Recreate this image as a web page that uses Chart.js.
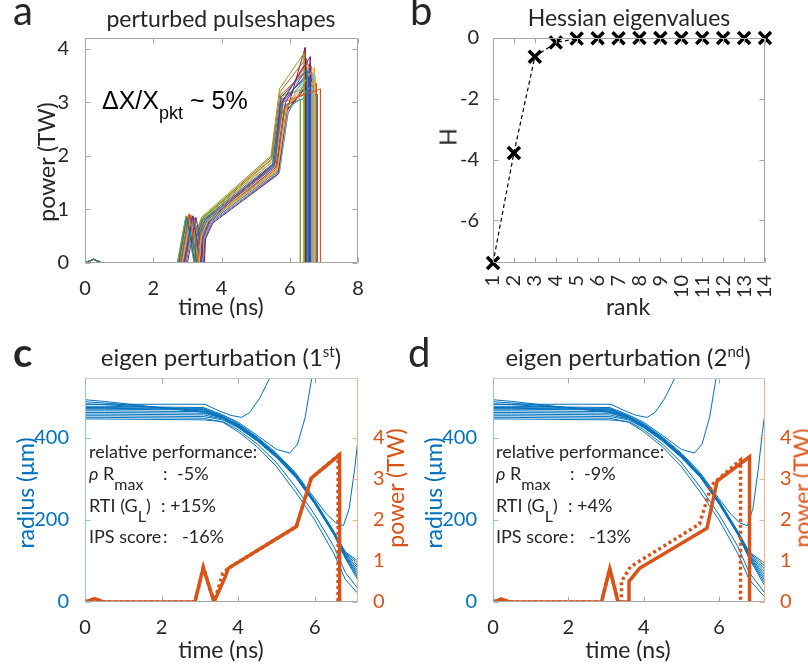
<!DOCTYPE html>
<html>
<head>
<meta charset="utf-8">
<script src="https://cdn.jsdelivr.net/npm/chart.js@4.4.0/dist/chart.umd.min.js"></script>
<style>
  body { margin: 0; background: #fff; width: 808px; height: 668px; position: relative; overflow: hidden; font-family: Lato, sans-serif; color: #262626; }
  canvas { position: absolute; }
  .t { position: absolute; white-space: nowrap; line-height: 1; }
  .ctr { transform: translateX(-50%); }
  .rot { transform: translate(-50%, -50%) rotate(-90deg); }
  .lbl { font-size: 23px; }
  .ann { font-size: 18px; }
  .ann span { display: inline-block; }
  .sub { position: relative; top: 10px; font-size: 16px; }
</style>
</head>
<body>
<canvas id="pa" style="left:0;top:0" width="400" height="330"></canvas>
<canvas id="pb" style="left:400px;top:0" width="408" height="330"></canvas>
<canvas id="pc" style="left:0;top:330px" width="400" height="338"></canvas>
<canvas id="pd" style="left:400px;top:330px" width="408" height="338"></canvas>

<!-- panel letters -->
<div class="t" style="left:13px;top:-10px;font-size:40px">a</div>
<div class="t" style="left:410px;top:-10px;font-size:40px">b</div>
<div class="t" style="left:13px;top:332px;font-size:40px;font-weight:bold">c</div>
<div class="t" style="left:408px;top:332px;font-size:40px">d</div>

<!-- titles -->
<div class="t lbl ctr" style="left:221px;top:7px">perturbed pulseshapes</div>
<div class="t lbl ctr" style="left:629px;top:6px">Hessian eigenvalues</div>
<div class="t lbl ctr" style="left:221px;top:344px;font-size:24px">eigen perturbation (1<sup style="font-size:15px">st</sup>)</div>
<div class="t lbl ctr" style="left:628px;top:344px;font-size:24px">eigen perturbation (2<sup style="font-size:15px">nd</sup>)</div>

<!-- axis labels -->
<div class="t lbl ctr" style="left:221px;top:295px">time (ns)</div>
<div class="t lbl ctr" style="left:628px;top:295px">rank</div>
<div class="t lbl ctr" style="left:221px;top:638px">time (ns)</div>
<div class="t lbl ctr" style="left:628px;top:638px">time (ns)</div>
<div class="t lbl rot" style="left:46px;top:162px">power (TW)</div>
<div class="t lbl rot" style="left:448px;top:137px">H</div>
<div class="t lbl rot" style="left:25px;top:493px;color:#0072BD">radius (μm)</div>
<div class="t lbl rot" style="left:395px;top:488px;color:#D95319">power (TW)</div>
<div class="t lbl rot" style="left:433px;top:493px;color:#0072BD">radius (μm)</div>
<div class="t lbl rot" style="left:802px;top:488px;color:#D95319">power (TW)</div>

<!-- annotation panel a -->
<div class="t" style="left:102px;top:88px;font-family:'Liberation Sans';font-size:25px;color:#000">ΔX/X<span style="position:relative;top:10px;font-size:18px">pkt</span> ~ 5%</div>

<!-- annotation panel c -->
<div class="t ann" style="left:89px;top:442px">relative performance:</div>
<div class="t ann" style="left:89px;top:464px"><span style="width:74px"><i>ρ</i> R<span class="sub">max</span></span><span style="width:14px">:</span>-5%</div>
<div class="t ann" style="left:89px;top:496px"><span style="width:72px">RTI (G<span class="sub">L</span>)</span><span>: +15%</span></div>
<div class="t ann" style="left:89px;top:527px"><span style="width:74px">IPS score</span><span style="width:19px">:</span>-16%</div>

<!-- annotation panel d -->
<div class="t ann" style="left:496px;top:442px">relative performance:</div>
<div class="t ann" style="left:496px;top:464px"><span style="width:74px"><i>ρ</i> R<span class="sub">max</span></span><span style="width:14px">:</span>-9%</div>
<div class="t ann" style="left:496px;top:496px"><span style="width:72px">RTI (G<span class="sub">L</span>)</span><span>: +4%</span></div>
<div class="t ann" style="left:496px;top:527px"><span style="width:74px">IPS score</span><span style="width:19px">:</span>-13%</div>

<script>
// ---- panel a: perturbed pulse shapes, [time ns, power TW]
const lineColors = ['#0072BD', '#D95319', '#EDB120', '#7E2F8E', '#77AC30', '#4DBEEE', '#A2142F'];
const pulsesA = [
  [[0,0],[0.25,0.07],[0.5,0],[2.75,0],[2.98,0.85],[3.22,0],[3.26,0.48],[3.45,0.8],[5.5,1.85],[5.75,3.1],[6.5,3.6],[6.5,0]],
  [[0,0],[0.25,0.07],[0.5,0],[2.8,0],[3.05,0.92],[3.3,0],[3.34,0.5],[3.52,0.82],[5.55,1.8],[5.8,3.0],[6.9,3.25],[6.9,0]],
  [[0,0],[0.25,0.07],[0.5,0],[2.85,0],[3.08,0.8],[3.35,0],[3.39,0.45],[3.6,0.78],[5.65,1.75],[5.92,2.9],[6.72,3.65],[6.72,0]],
  [[0,0],[0.25,0.07],[0.5,0],[2.9,0],[3.15,0.88],[3.4,0],[3.44,0.5],[3.65,0.8],[5.58,1.88],[5.72,2.95],[6.6,3.85],[6.6,0]],
  [[0,0],[0.25,0.07],[0.5,0],[2.7,0],[2.95,0.85],[3.2,0],[3.24,0.55],[3.42,0.86],[5.45,2.0],[5.7,3.25],[6.42,3.92],[6.42,0]],
  [[0,0],[0.25,0.07],[0.5,0],[2.95,0],[3.2,0.82],[3.45,0],[3.49,0.45],[3.7,0.75],[5.7,1.7],[5.95,2.85],[6.62,3.3],[6.62,0]],
  [[0,0],[0.25,0.07],[0.5,0],[3.0,0],[3.25,0.85],[3.5,0],[3.53,0.45],[3.75,0.75],[5.65,1.65],[5.9,2.8],[6.45,4.02],[6.45,0]],
  [[0,0],[0.25,0.07],[0.5,0],[2.8,0],[3.02,0.78],[3.28,0],[3.31,0.5],[3.5,0.8],[5.52,1.8],[5.78,3.05],[6.55,3.5],[6.55,0]],
  [[0,0],[0.25,0.07],[0.5,0],[2.88,0],[3.1,0.9],[3.36,0],[3.4,0.48],[3.6,0.78],[5.6,1.75],[5.85,2.9],[6.78,3.35],[6.78,0]],
  [[0,0],[0.25,0.07],[0.5,0],[2.78,0],[3.0,0.82],[3.25,0],[3.29,0.5],[3.48,0.82],[5.55,1.92],[5.8,3.1],[6.52,3.7],[6.52,0]],
  [[0,0],[0.25,0.07],[0.5,0],[2.92,0],[3.15,0.86],[3.42,0],[3.46,0.48],[3.65,0.78],[5.62,1.8],[5.88,3.0],[6.58,3.72],[6.58,0]],
  [[0,0],[0.25,0.07],[0.5,0],[2.75,0],[2.98,0.88],[3.22,0],[3.26,0.5],[3.45,0.85],[5.48,1.95],[5.8,2.85],[6.31,3.05],[6.31,0]],
  [[0,0],[0.25,0.07],[0.5,0],[2.82,0],[3.05,0.8],[3.3,0],[3.34,0.5],[3.55,0.8],[5.58,1.85],[5.82,3.0],[6.68,3.55],[6.68,0]],
  [[0,0],[0.25,0.07],[0.5,0],[2.95,0],[3.2,0.84],[3.48,0],[3.51,0.46],[3.72,0.76],[5.68,1.7],[5.92,2.85],[6.7,3.45],[6.7,0]],
  [[0,0],[0.25,0.07],[0.5,0],[2.85,0],[3.1,0.86],[3.33,0],[3.37,0.5],[3.58,0.8],[5.6,1.82],[5.85,2.95],[6.8,3.15],[6.8,0]],
  [[0,0],[0.25,0.07],[0.5,0],[2.72,0],[2.96,0.88],[3.2,0],[3.24,0.52],[3.44,0.84],[5.46,1.98],[5.72,3.2],[6.48,3.82],[6.48,0]],
  [[0,0],[0.25,0.07],[0.5,0],[2.9,0],[3.12,0.84],[3.38,0],[3.42,0.46],[3.62,0.78],[5.63,1.72],[5.9,2.92],[6.75,3.42],[6.75,0]],
  [[0,0],[0.25,0.07],[0.5,0],[2.83,0],[3.06,0.9],[3.31,0],[3.35,0.5],[3.55,0.82],[5.56,1.86],[5.72,2.95],[6.6,3.6],[6.6,0]],
  [[0,0],[0.25,0.07],[0.5,0],[2.77,0],[3.0,0.86],[3.24,0],[3.28,0.52],[3.47,0.84],[5.5,1.9],[5.76,3.12],[6.7,3.3],[6.7,0]],
  [[0,0],[0.25,0.07],[0.5,0],[2.88,0],[3.11,0.82],[3.37,0],[3.41,0.48],[3.62,0.78],[5.64,1.74],[5.9,2.88],[6.56,3.62],[6.56,0]],
  [[0,0],[0.25,0.07],[0.5,0],[2.8,0],[3.03,0.86],[3.28,0],[3.32,0.5],[3.52,0.8],[5.54,1.83],[5.8,3.02],[6.5,3.78],[6.5,0]],
  [[0,0],[0.25,0.07],[0.5,0],[2.93,0],[3.17,0.88],[3.43,0],[3.47,0.47],[3.67,0.77],[5.66,1.72],[5.92,2.86],[6.73,3.5],[6.73,0]],
  [[0,0],[0.25,0.07],[0.5,0],[2.74,0],[2.97,0.84],[3.21,0],[3.25,0.5],[3.44,0.83],[5.47,1.93],[5.74,3.14],[6.62,3.68],[6.62,0]],
  [[0,0],[0.25,0.07],[0.5,0],[2.86,0],[3.09,0.87],[3.34,0],[3.38,0.48],[3.58,0.79],[5.6,1.78],[5.86,2.92],[6.66,3.38],[6.66,0]],
  [[0,0],[0.25,0.07],[0.5,0],[2.96,0],[3.2,0.84],[3.46,0],[3.5,0.46],[3.71,0.76],[5.69,1.68],[5.95,2.8],[6.64,3.58],[6.64,0]]
];

// ---- panel b: Hessian eigenvalues by rank
const ranks = [1, 2, 3, 4, 5, 6, 7, 8, 9, 10, 11, 12, 13, 14];
const hessH = [-7.4, -3.78, -0.62, -0.15, -0.02, -0.01, -0.01, 0, 0, 0, 0, 0, 0, 0];

// ---- panels c/d: shell radius trajectories (um), shared time grid
const radT = [0, 0.5, 3.1, 3.6, 4.0, 4.5, 5.0, 5.5, 6.0, 6.5, 6.8, 7.25];
const radBundle = [
  [493, 489, 462, 449, 433, 400, 360, 312, 247, 172, 122, 92],
  [488, 485, 465, 450, 432, 399, 359, 311, 246, 171, 120, 85],
  [483, 481, 468, 451, 431, 398, 358, 310, 245, 170, 118, 77],
  [474, 474, 472, 452, 430, 397, 357, 309, 244, 169, 116, 70],
  [470, 470, 468, 451, 429, 396, 356, 308, 243, 168, 114, 62],
  [466, 466, 464, 450, 428, 395, 355, 307, 242, 167, 112, 55],
  [462, 462, 460, 448, 427, 394, 354, 306, 241, 166, 110, 48],
  [458, 458, 456, 446, 426, 393, 353, 305, 240, 165, 108, 41],
  [454, 454, 452, 444, 425, 392, 352, 304, 239, 164, 106, 34],
  [450, 450, 448, 438, 415, 378, 330, 268, 200, 118, 55, 8],
  [446, 446, 444, 440, 420, 385, 340, 280, 213, 135, 72, 18]
];
// trajectories that turn back up
const radAT = [0, 3.13, 3.5, 3.8, 4.09, 4.3, 4.55, 4.85];
const radA = [482, 482, 466, 455, 450, 462, 495, 550];
const radBT = [0, 0.5, 3.1, 3.6, 4.0, 4.5, 5.0, 5.35, 5.55, 5.75, 5.93];
const radB = [477, 477, 474, 456, 438, 406, 372, 363, 385, 450, 550];
const radCT = [0, 0.5, 3.1, 3.6, 4.0, 4.5, 5.0, 5.5, 6.0, 6.3, 6.55, 6.75, 6.9, 7.05, 7.15, 7.25];
const radC = [472, 472, 470, 454, 435, 402, 363, 315, 252, 215, 193, 186, 228, 330, 415, 480];

// ---- pulses (TW) for c and d: reference (solid) and perturbed (dotted)
const powCT = [0, 0.25, 0.48, 2.87, 3.09, 3.37, 3.65, 3.74, 5.52, 5.91, 6.65, 6.65];
const powC = [0, 0.08, 0, 0, 0.84, 0, 0.58, 0.82, 1.84, 3.02, 3.59, 0];
const powCdT = [0, 0.25, 0.48, 2.87, 3.09, 3.37, 3.6, 3.74, 5.52, 5.91, 6.61, 6.61];
const powCd = [0, 0.08, 0, 0, 0.84, 0, 0.7, 0.82, 1.84, 3.02, 3.57, 0];
const powDT = [0, 0.22, 0.44, 2.88, 3.1, 3.32, 3.61, 3.61, 3.89, 5.68, 5.95, 6.81, 6.81];
const powD = [0, 0.07, 0, 0, 0.81, 0, 0, 0.5, 0.82, 1.8, 2.95, 3.54, 0];
const powDdT = [0, 0.22, 0.44, 2.88, 3.1, 3.32, 3.41, 3.41, 3.65, 5.48, 5.8, 6.57, 6.57];
const powDd = [0, 0.07, 0, 0, 0.81, 0, 0, 0.5, 0.86, 1.9, 2.85, 3.46, 0];

const BLUE = '#0072BD', ORANGE = '#D95319', INK = '#262626';

Chart.defaults.font.family = 'Lato';
Chart.defaults.color = INK;

const pts = (ts, vs) => ts.map((t, i) => ({ x: t, y: vs[i] }));

// axis box with inward tick marks, MATLAB style
const frame = {
  id: 'frame',
  afterDraw(chart, args, o) {
    const { ctx, chartArea: a, scales } = chart;
    const L = Math.round(a.left) + 0.5, R = Math.round(a.right) - 0.5;
    const T = Math.round(a.top) + 0.5, B = Math.round(a.bottom) - 0.5;
    ctx.save();
    ctx.lineWidth = 1;
    const seg = (c, x1, y1, x2, y2) => {
      ctx.strokeStyle = c; ctx.beginPath(); ctx.moveTo(x1, y1); ctx.lineTo(x2, y2); ctx.stroke();
    };
    seg(o.top, L, T, R, T);
    seg(o.bottom, L, B, R, B);
    seg(o.left, L, T, L, B);
    seg(o.right, R, T, R, B);
    scales.x.ticks.forEach(t => {
      const px = Math.round(scales.x.getPixelForValue(t.value)) + 0.5;
      seg(o.bottom, px, B, px, B - 5);
      seg(o.bottom, px, T, px, T + 5);
    });
    scales.y.ticks.forEach(t => {
      const py = Math.round(scales.y.getPixelForValue(t.value)) + 0.5;
      seg(o.left, L, py, L + 5, py);
      if (!scales.y2) seg(o.right, R, py, R - 5, py);
    });
    if (scales.y2) scales.y2.ticks.forEach(t => {
      const py = Math.round(scales.y2.getPixelForValue(t.value)) + 0.5;
      seg(o.right, R, py, R - 5, py);
    });
    ctx.restore();
  }
};

const baseOpts = (pad, box) => ({
  responsive: false,
  animation: false,
  events: [],
  layout: { padding: pad },
  plugins: { legend: { display: false }, tooltip: { enabled: false }, frame: box }
});

const axis = (extra, color) => Object.assign({
  type: 'linear',
  grid: { display: false },
  border: { display: false },
  ticks: { font: { size: 20 }, color: color || INK, padding: 6, includeBounds: false }
}, extra);

const grayBox = { top: '#a6a6a6', bottom: '#a6a6a6', left: '#a6a6a6', right: '#a6a6a6' };

// panel a
new Chart(document.getElementById('pa'), {
  type: 'line',
  data: {
    datasets: pulsesA.map((p, i) => ({
      data: p.map(([x, y]) => ({ x, y })),
      borderColor: lineColors[i % lineColors.length],
      borderWidth: 1, pointRadius: 0, tension: 0
    }))
  },
  options: Object.assign(baseOpts({ left: 0, top: 38, right: 42, bottom: 0 }, grayBox), {
    scales: {
      x: axis({ min: 0, max: 8, afterFit: s => { s.height = 67; } }),
      y: axis({ min: 0, max: 4.2, afterFit: s => { s.width = 85; } })
    }
  }),
  plugins: [frame]
});
const pa = Chart.getChart('pa');
pa.options.scales.x.ticks.stepSize = 2;
pa.options.scales.y.ticks.stepSize = 1;
pa.options.scales.y.ticks.padding = 8;
pa.update();

// panel b
new Chart(document.getElementById('pb'), {
  type: 'line',
  data: {
    datasets: [
      { data: pts(ranks, hessH), showLine: false, pointStyle: 'crossRot', pointRadius: 8.5,
        pointBorderWidth: 3.5, pointBorderColor: '#000', clip: false },
      { data: pts(ranks, hessH), borderColor: '#000', borderWidth: 1.2, borderDash: [4, 3],
        pointRadius: 0, tension: 0 }
    ]
  },
  options: Object.assign(baseOpts({ left: 0, top: 38, right: 43, bottom: 0 }, grayBox), {
    scales: {
      x: axis({ min: 1, max: 14, afterFit: s => { s.height = 67; } }),
      y: axis({ min: -7.4, max: 0, afterFit: s => { s.width = 93; } })
    }
  }),
  plugins: [frame]
});
const pb = Chart.getChart('pb');
pb.options.scales.x.ticks.stepSize = 1;
pb.options.scales.x.ticks.autoSkip = false;
pb.options.scales.x.ticks.minRotation = 90;
pb.options.scales.x.ticks.maxRotation = 90;
pb.options.scales.x.ticks.padding = 4;
pb.options.scales.y.ticks.stepSize = 2;
pb.update();

// panels c and d
function eigenPanel(id, yW, y2W, xMax, solid, dotted) {
  const blueSets = radBundle.map(r => pts(radT, r))
    .concat([pts(radAT, radA), pts(radBT, radB), pts(radCT, radC)])
    .map(d => ({ data: d, yAxisID: 'y', borderColor: BLUE, borderWidth: 1, pointRadius: 0, tension: 0 }));
  const orangeSets = [
    { data: dotted, yAxisID: 'y2', borderColor: ORANGE, borderWidth: 3.5, borderDash: [3, 3], pointRadius: 0, tension: 0 },
    { data: solid, yAxisID: 'y2', borderColor: ORANGE, borderWidth: 3.5, pointRadius: 0, tension: 0 }
  ];
  new Chart(document.getElementById(id), {
    type: 'line',
    data: { datasets: orangeSets.concat(blueSets) },
    options: Object.assign(baseOpts({ left: 0, top: 48, right: 0, bottom: 0 },
      { top: '#c8c8c8', bottom: '#a6a6a6', left: '#8fc3e8', right: '#f2b08f' }), {
      scales: {
        x: axis({ min: 0, max: xMax, afterFit: s => { s.height = 66; } }),
        y: axis({ min: 0, max: 546, afterFit: s => { s.width = yW; } }, BLUE),
        y2: axis({ position: 'right', min: 0, max: 5.46, afterFit: s => { s.width = y2W; },
          afterBuildTicks: s => { s.ticks = s.ticks.filter(t => t.value <= 4); } }, ORANGE)
      }
    }),
    plugins: [frame]
  });
  const c = Chart.getChart(id);
  c.options.scales.x.ticks.stepSize = 2;
  c.options.scales.y.ticks.stepSize = 200;
  c.options.scales.y.ticks.padding = 8;
  c.options.scales.y2.ticks.stepSize = 1;
  c.options.scales.y2.ticks.padding = 7;
  c.update();
}
eigenPanel('pc', 85, 42, 7.13, pts(powCT, powC), pts(powCdT, powCd));
eigenPanel('pd', 93, 43, 7.22, pts(powDT, powD), pts(powDdT, powDd));
</script>
</body>
</html>
